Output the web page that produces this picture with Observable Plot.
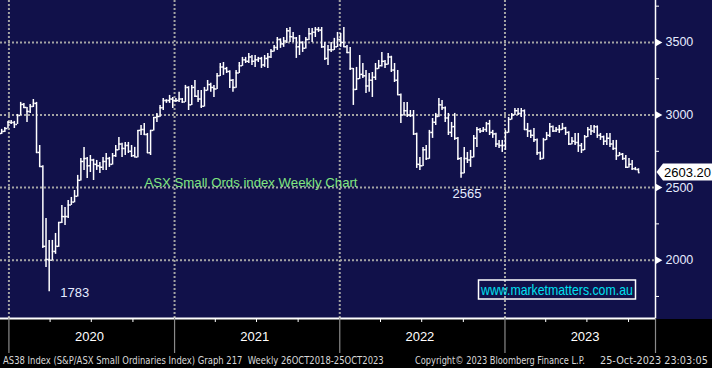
<!DOCTYPE html>
<html><head><meta charset="utf-8">
<script src="https://cdn.jsdelivr.net/npm/d3@7"></script>
<script src="https://cdn.jsdelivr.net/npm/@observablehq/plot@0.6"></script>
<style>
html,body{margin:0;padding:0;background:#000;}
#chart{width:712px;height:368px;overflow:hidden;}
</style></head><body><div id="chart"></div>
<script>
// Weekly OHLC, AS38 Index (S&P/ASX Small Ordinaries), Dec 2019 - Oct 2023
const opens = [2880,2873,2887,2907,2949,2949,2935,2997,3073,3052,
3025,3059,3080,2742,2645,2095,2005,2000,2060,2095,
2260,2300,2300,2380,2400,2440,2550,2680,2700,2650,
2690,2660,2650,2640,2680,2700,2660,2720,2760,2800,
2770,2790,2750,2720,2710,2894,2900,2866,2740,2894,
2983,2990,3050,3100,3100,3110,3100,3100,3110,3090,
3190,3070,3190,3130,3110,3060,3170,3210,3190,3180,
3270,3330,3320,3300,3240,3190,3290,3340,3380,3370,
3400,3370,3380,3390,3345,3390,3400,3440,3466,3520,
3490,3510,3580,3540,3530,3470,3500,3460,3520,3560,
3570,3590,3585,3470,3390,3450,3450,3470,3520,3500,
3470,3430,3320,3176,3250,3280,3270,3200,3240,3260,
3320,3340,3370,3350,3400,3310,3240,3140,3000,3030,
3000,2997,2870,2660,2650,2760,2700,2880,2950,2990,
3070,3050,2980,2880,2920,2840,2700,2600,2700,2690,
2710,2840,2900,2890,2900,2940,2880,2870,2800,2790,
2790,2880,2970,3000,3030,3010,3030,2900,2890,2860,
2830,2740,2700,2830,2860,2920,2890,2900,2900,2910,
2880,2800,2820,2810,2790,2760,2850,2900,2890,2920,
2860,2850,2820,2840,2800,2770,2720,2730,2700,2640,
2660,2630,2625];
const highs = [2894,2901,2914,2956,2963,2956,3004,3087,3080,3052,
3073,3107,3087,2790,2650,2287,2136,2136,2184,2260,
2377,2363,2411,2432,2480,2584,2701,2777,2708,2721,
2695,2687,2673,2708,2735,2708,2735,2790,2845,2805,
2811,2811,2790,2777,2894,2928,2942,2873,2894,2983,
3011,3066,3114,3105,3135,3121,3114,3156,3114,3204,
3195,3204,3238,3169,3169,3190,3238,3218,3204,3286,
3355,3362,3328,3305,3245,3307,3362,3397,3397,3424,
3410,3410,3397,3397,3410,3424,3452,3479,3534,3525,
3534,3596,3603,3569,3534,3548,3505,3534,3596,3596,
3603,3603,3603,3500,3479,3500,3528,3569,3562,3603,
3479,3466,3321,3328,3410,3355,3307,3286,3293,3355,
3376,3431,3376,3424,3405,3355,3307,3145,3087,3087,
3031,3031,2875,2708,2777,2790,2894,2976,3011,3114,
3100,3055,3011,2949,3011,2845,2708,2777,2742,2756,
2859,2914,2907,2914,2949,2963,2894,2875,2825,2825,
2894,2983,3011,3045,3045,3045,3035,2942,2895,2907,
2835,2745,2839,2880,2942,2925,2914,2928,2942,2915,
2885,2845,2873,2873,2804,2859,2914,2928,2928,2925,
2873,2855,2873,2873,2825,2825,2742,2735,2721,2701,
2687,2639,2630];
const lows = [2859,2866,2880,2907,2935,2907,2935,2997,3045,2949,
3011,3052,2735,2639,2081,1950,1783,1998,2040,2088,
2253,2239,2287,2377,2395,2435,2545,2618,2563,2604,
2549,2618,2597,2618,2618,2639,2655,2708,2755,2708,
2721,2735,2708,2708,2705,2859,2859,2735,2721,2890,
2949,2985,3031,3080,3080,3045,3087,3087,3080,3087,
3031,3065,3121,3087,3045,3055,3165,3156,3121,3175,
3265,3273,3286,3183,3156,3185,3286,3335,3355,3355,
3342,3328,3362,3321,3328,3321,3390,3435,3445,3459,
3466,3493,3500,3500,3390,3410,3431,3455,3514,3500,
3534,3569,3459,3376,3342,3431,3445,3465,3466,3466,
3424,3307,3066,3169,3245,3252,3149,3156,3121,3238,
3315,3330,3321,3345,3293,3224,3135,2942,2997,2983,
2983,2859,2632,2618,2645,2687,2695,2839,2928,2985,
3031,2949,2859,2845,2825,2687,2565,2595,2666,2639,
2705,2777,2873,2880,2880,2859,2839,2777,2770,2742,
2756,2875,2965,2997,2997,2983,2894,2845,2839,2811,
2721,2687,2695,2825,2845,2880,2880,2873,2894,2859,
2790,2795,2790,2742,2735,2755,2845,2859,2873,2839,
2825,2790,2790,2777,2756,2687,2715,2687,2632,2635,
2618,2618,2600];
const closes = [2873,2887,2907,2949,2949,2935,2997,3073,3052,3025,
3059,3080,2742,2645,2095,2005,2000,2060,2095,2260,
2300,2300,2380,2400,2440,2550,2680,2700,2650,2690,
2660,2650,2640,2680,2700,2660,2720,2760,2800,2770,
2790,2750,2720,2710,2894,2900,2866,2740,2894,2983,
2990,3050,3100,3100,3110,3100,3100,3110,3090,3190,
3070,3190,3130,3110,3060,3170,3210,3190,3180,3270,
3330,3320,3300,3240,3190,3290,3340,3380,3370,3400,
3370,3380,3390,3345,3390,3400,3440,3466,3520,3490,
3510,3580,3540,3530,3470,3500,3460,3520,3560,3570,
3590,3585,3470,3390,3450,3450,3470,3520,3500,3470,
3430,3320,3176,3250,3280,3270,3200,3240,3260,3320,
3340,3370,3350,3400,3310,3240,3140,3000,3030,3000,
2997,2870,2660,2650,2760,2700,2880,2950,2990,3070,
3050,2980,2880,2920,2840,2700,2600,2700,2690,2710,
2840,2900,2890,2900,2940,2880,2870,2800,2790,2790,
2880,2970,3000,3030,3010,3030,2900,2890,2860,2830,
2740,2700,2830,2860,2920,2890,2900,2900,2910,2880,
2800,2820,2810,2790,2760,2850,2900,2890,2920,2860,
2850,2820,2840,2800,2770,2720,2730,2700,2640,2660,
2630,2625,2603.2];

const lastBarWeek = "2023-10-23";
const yTicks = [2000, 2500, 3000, 3500];
const yMinorTicks = [1750, 2250, 2750, 3250, 3750];
const yearLabels = ["2020", "2021", "2022", "2023"];
const annotatedLows = [1783, 2565];
const chartTitle = "ASX Small Ords index Weekly Chart";
const watermark = "www.marketmatters.com.au";
const footerLeft = "AS38 Index (S&P/ASX Small Ordinaries Index) Graph 217  Weekly 26OCT2018-25OCT2023";
const footerMid = "Copyright\u00A9 2023 Bloomberg Finance L.P.";
const footerRight = "25-Oct-2023 23:03:05";

const DAY = 864e5;
const n = closes.length;
const lastDate = new Date(lastBarWeek + "T00:00:00Z");
const bars = closes.map((c, i) => ({
  date: new Date(+lastDate - (n - 1 - i) * 7 * DAY),
  open: opens[i], high: highs[i], low: lows[i], close: c
}));
const xDomain = [new Date(Date.UTC(2019, 11, 13, 10)), new Date(Date.UTC(2023, 10, 29, 14))];
const yDomain = [1598, 3789];
const yearStarts = yearLabels.map(y => new Date(Date.UTC(+y, 0, 1)));
const yearMids = yearLabels.map(y => ({label: y, date: new Date(Date.UTC(+y, 5, 27))}));
const quarterTicks = yearLabels.flatMap(y => [3, 6, 9].map(m => new Date(Date.UTC(+y, m, 1))));
const lowBars = annotatedLows.map(v => ({...bars[lows.indexOf(v)], label: String(v)}));

const NAVY = "#11114a";
const GRID = "#a4a4a4";
const LABEL = "#e6ecff";
const half = 3.5 * DAY;

const chart = Plot.plot({
  width: 712, height: 368,
  marginLeft: 0, marginRight: 57, marginTop: 0, marginBottom: 50,
  style: {background: `linear-gradient(${NAVY} 0px, ${NAVY} 319px, #000 319px)`, color: "white",
          fontFamily: "'Liberation Sans', Arial, sans-serif", overflow: "visible"},
  x: {type: "utc", domain: xDomain},
  y: {domain: yDomain},
  marks: [
    Plot.ruleY(yTicks, {stroke: GRID, strokeWidth: 2, strokeDasharray: "2,2"}),
    Plot.ruleX(yearStarts, {stroke: GRID, strokeWidth: 2, strokeDasharray: "2,2"}),
    Plot.text([chartTitle], {frameAnchor: "top-left", dx: 144, dy: 177, textAnchor: "start",
      fill: "#80e680", fontSize: 13.2}),
    Plot.ruleX(bars, {x: "date", y1: "low", y2: "high", stroke: "white", strokeWidth: 1.5, clip: true}),
    Plot.ruleY(bars, {y: "open", x1: d => new Date(+d.date - half), x2: "date", stroke: "white", strokeWidth: 1.5, clip: true}),
    Plot.ruleY(bars, {y: "close", x1: "date", x2: d => new Date(+d.date + half), stroke: "white", strokeWidth: 1.5, clip: true}),
    Plot.text(lowBars.slice(0, 1), {x: "date", y: "low", text: "label", textAnchor: "start", dx: 11, dy: 1, fill: LABEL, fontSize: 13}),
    Plot.text(lowBars.slice(1), {x: "date", y: "low", text: "label", textAnchor: "middle", dx: 6, dy: 15.5, fill: LABEL, fontSize: 13}),
    // frame lines
    Plot.ruleY([yDomain[0]], {stroke: "white", strokeWidth: 2}),
    Plot.ruleX([xDomain[1]], {stroke: "white", strokeWidth: 1.5}),
    // x axis pieces
    Plot.axisX(yearStarts.concat([xDomain[1]]), {tickSize: 35, tickFormat: () => "", stroke: "#8a8a8a", strokeWidth: 1.2}),
    Plot.axisX(quarterTicks, {tickSize: 4, tickFormat: () => "", stroke: "white"}),
    Plot.text(yearMids, {x: "date", frameAnchor: "bottom", dy: 22, text: "label", fill: "white", fontSize: 13}),
    // y axis pieces
    Plot.axisY(yMinorTicks, {anchor: "right", tickSize: 3, tickFormat: () => "", stroke: "white"}),
    Plot.axisY(yTicks, {anchor: "right", tickSize: 0, tickPadding: 10, tickFormat: d => String(d), fill: LABEL, fontSize: 12.5}),
    Plot.dot(yTicks, {y: d => d, frameAnchor: "right", symbol: "triangle", r: 2.8, rotate: 90, fill: "white", stroke: null, dx: 2.5})
  ]
});

document.getElementById("chart").appendChild(chart);

const svg = d3.select(chart);
const xr = chart.scale("x").range[1];
const yc = chart.scale("y").apply(closes[n - 1]);
const g = svg.append("g").attr("text-anchor", "start");
g.append("path")
  .attr("d", `M${xr + 1.5},${yc} L${xr + 8},${yc - 8.5} H712 V${yc + 8.5} H${xr + 8} Z`)
  .attr("fill", "white");
g.append("text").attr("x", xr + 9).attr("y", yc).attr("dy", "0.36em")
  .attr("text-anchor", "start")
  .attr("fill", "black").attr("font-size", 13)
  .text(d3.format(".2f")(closes[n - 1]));

// fit a text to a given width by horizontal scaling (keeps true bounding box)
function fitText(parent, str, x, y, w, attrs) {
  const t = parent.append("text").attr("x", 0).attr("y", 0).attr("text-anchor", "start");
  for (const k in attrs) t.attr(k, attrs[k]);
  t.text(str);
  const natural = t.node().getComputedTextLength() || w;
  t.attr("transform", `translate(${x},${y}) scale(${w / natural},1)`);
  return t;
}

// watermark box
const wm = svg.append("g").attr("text-anchor", "start");
wm.append("rect").attr("x", 478.5).attr("y", 280).attr("width", 157).attr("height", 19)
  .attr("fill", "none").attr("stroke", "white").attr("stroke-width", 1.5);
fitText(wm, watermark, 481, 289.5, 152, {"dy": "0.36em", "fill": "#00e0f0", "font-size": 14});

// footer
const footer = [[footerLeft, 3, 381], [footerMid, 415, 170], [footerRight, 600, 108]];
const fg = svg.append("g").attr("text-anchor", "start");
for (const [t, x, w] of footer) {
  fitText(fg, t, x, 363.5, w, {"fill": "#d8d8d8", "font-size": 11,
    "font-family": "'Liberation Sans Narrow', 'DejaVu Sans Condensed', 'Liberation Sans', sans-serif"});
}
</script>
</body></html>
